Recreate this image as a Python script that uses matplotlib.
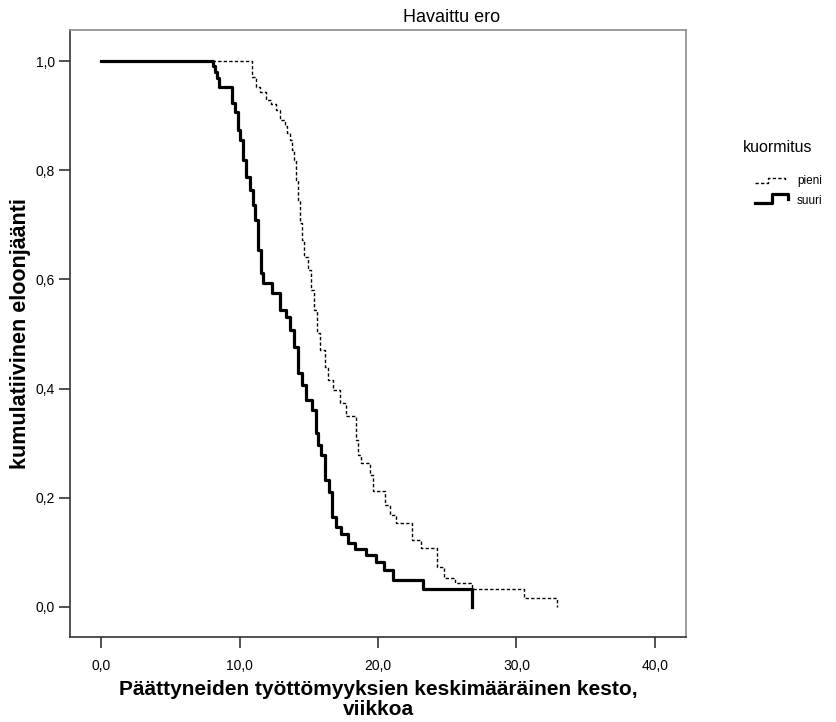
import matplotlib
matplotlib.use("Agg")
import matplotlib.pyplot as plt
from matplotlib.lines import Line2D

plt.rcParams['font.family'] = ['Liberation Sans', 'DejaVu Sans']

# Kaplan-Meier askeleet luettu kuvasta (aika viikkoina, eloonjäänti)
t_pieni = [0.0, 10.90, 11.19, 11.48, 11.91, 12.27, 12.64, 12.92, 13.29, 13.43, 13.65,
           13.79, 13.94, 14.08, 14.22, 14.37, 14.51, 14.66, 14.95, 15.16, 15.38, 15.60,
           15.81, 16.17, 16.39, 16.75, 17.26, 17.69, 18.41, 18.56, 18.77, 19.42, 19.64,
           20.50, 20.86, 21.30, 22.45, 23.10, 24.26, 24.77, 25.56, 26.79, 30.54, 32.92]
s_pieni = [1.0, 0.971, 0.952, 0.943, 0.929, 0.921, 0.910, 0.892, 0.881, 0.868, 0.855,
           0.837, 0.819, 0.782, 0.745, 0.703, 0.672, 0.641, 0.617, 0.581, 0.544, 0.502,
           0.471, 0.440, 0.416, 0.397, 0.374, 0.350, 0.306, 0.278, 0.264, 0.242, 0.212,
           0.187, 0.168, 0.154, 0.123, 0.108, 0.073, 0.053, 0.044, 0.033, 0.016, 0.0]

t_suuri = [0.0, 8.09, 8.23, 8.38, 8.52, 9.46, 9.68, 9.89, 10.04, 10.25, 10.47, 10.76,
           10.97, 11.12, 11.34, 11.55, 11.70, 12.35, 12.92, 13.36, 13.65, 13.94, 14.22,
           14.51, 14.80, 15.23, 15.52, 15.67, 15.88, 16.17, 16.46, 16.68, 16.97, 17.33,
           17.83, 18.34, 19.13, 19.86, 20.43, 21.08, 23.25, 26.79]
s_suuri = [1.0, 0.991, 0.980, 0.969, 0.952, 0.923, 0.907, 0.874, 0.855, 0.819, 0.788, 0.764,
           0.736, 0.709, 0.654, 0.612, 0.593, 0.575, 0.544, 0.531, 0.507, 0.476, 0.429,
           0.407, 0.379, 0.361, 0.319, 0.297, 0.278, 0.233, 0.211, 0.165, 0.147, 0.134,
           0.117, 0.106, 0.095, 0.082, 0.068, 0.049, 0.033, 0.0]

x_ticks = [0, 10, 20, 30, 40]
x_labels = ['0,0', '10,0', '20,0', '30,0', '40,0']
y_ticks = [0.0, 0.2, 0.4, 0.6, 0.8, 1.0]
y_labels = ['0,0', '0,2', '0,4', '0,6', '0,8', '1,0']

W, H = 836, 722
fig = plt.figure(figsize=(W / 100, H / 100), dpi=100)
ax = fig.add_axes([70 / W, 1 - 637 / H, (686 - 70) / W, (637 - 30) / H])

ax.step(t_pieni, s_pieni, where='post', color='black', lw=1.0,
        linestyle=(0, (2.4, 1.6)))
ax.step(t_suuri, s_suuri, where='post', color='black', lw=2.3)

ax.set_xlim(-2.24, 42.24)
ax.set_ylim(-0.055, 1.057)
ax.set_xticks(x_ticks)
ax.set_xticklabels(x_labels)
ax.set_yticks(y_ticks)
ax.set_yticklabels(y_labels)
ax.tick_params(axis='both', labelsize=10, length=8, width=1.2, color='#333333', pad=3)
ax.tick_params(axis='x', pad=8)

for side in ['left', 'bottom']:
    ax.spines[side].set_color('#333333')
    ax.spines[side].set_linewidth(1.2)
for side in ['top', 'right']:
    ax.spines[side].set_color('#8c8c8c')
    ax.spines[side].set_linewidth(1.2)

ax.set_xlabel('Päättyneiden työttömyyksien keskimääräinen kesto,\nviikkoa',
              fontsize=15, fontweight='bold', linespacing=1.08, labelpad=5)
ax.set_ylabel('kumulatiivinen eloonjäänti', fontsize=15.5, fontweight='bold', labelpad=3)

fig.text(452 / W, 1 - 18 / H, 'Havaittu ero', ha='center', va='center', fontsize=13)

# selite
fig.text(743 / W, 1 - 148 / H, 'kuormitus', ha='left', va='center', fontsize=11.5)
fig.add_artist(Line2D([755 / W, 768 / W, 768 / W, 785 / W, 785 / W],
                      [1 - 183 / H, 1 - 183 / H, 1 - 178 / H, 1 - 178 / H, 1 - 181 / H],
                      transform=fig.transFigure, color='black', lw=1.0,
                      linestyle=(0, (2.4, 1.6))))
fig.add_artist(Line2D([755 / W, 772 / W, 772 / W, 788 / W, 788 / W],
                      [1 - 203 / H, 1 - 203 / H, 1 - 194 / H, 1 - 194 / H, 1 - 199 / H],
                      transform=fig.transFigure, color='black', lw=2.3))
fig.text(797 / W, 1 - 181 / H, 'pieni', ha='left', va='center', fontsize=8.5)
fig.text(797 / W, 1 - 201 / H, 'suuri', ha='left', va='center', fontsize=8.5)

fig.savefig('out.png', dpi=100)
